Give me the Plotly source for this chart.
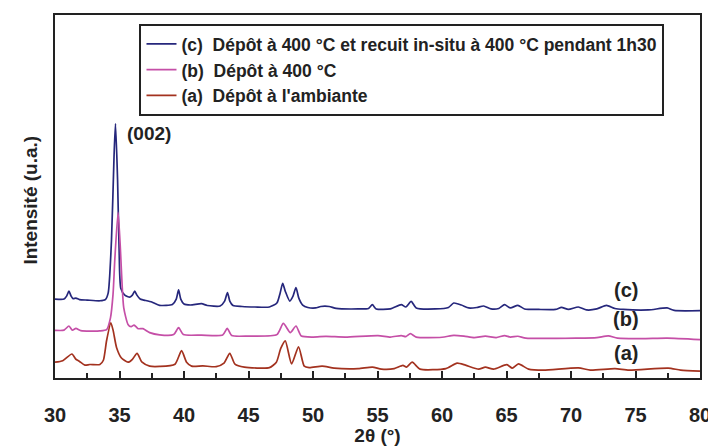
import plotly.graph_objects as go

# (c) Dépôt à 400 °C et recuit in-situ
c_x = [30.00, 30.70, 30.90, 31.08, 31.25, 31.40, 31.62, 31.90, 32.50, 33.48, 33.90, 34.12, 34.38, 34.58, 34.69,
       34.85, 34.97, 35.10, 35.41, 35.80, 36.00, 36.18, 36.35, 36.60, 36.90, 37.50, 38.11, 39.10, 39.40, 39.58, 39.75,
       40.00, 40.50, 41.36, 41.80, 42.80, 43.15, 43.37, 43.55, 43.80, 44.50, 45.50, 46.62, 47.20, 47.45, 47.65, 47.85, 48.20, 48.45, 48.68,
       48.90, 49.20, 49.60, 50.20, 50.60, 51.25, 51.80, 53.50, 54.30, 54.60, 54.90, 56.00, 56.84, 57.20,
       57.61, 58.00, 59.50, 60.50, 60.91, 61.50, 62.07, 62.70, 63.23, 63.80, 64.40, 64.85, 65.30,
       65.88, 66.40, 67.50, 68.80, 69.26, 69.80, 70.57, 71.20, 72.00, 72.74, 73.40, 74.05, 76.00,
       77.45, 78.00, 80.00]
c_y = [80, 80, 83, 88, 83, 80.5, 81, 79.5, 79, 78.3, 79.5, 86, 140, 226, 258,
       201, 131, 91, 84, 82, 84, 88, 84, 80, 79, 77, 73.7, 74.5, 80, 89.3, 80,
       75, 74, 75.3, 73.5, 73, 78, 86.7, 78, 73.5, 72.5, 72, 72, 76, 86, 96, 88, 78, 83, 91.7,
       81, 74, 71.5, 71, 72.5, 72.5, 70.5, 70, 70.5, 74.3, 70, 70, 74.3, 72,
       77.7, 71, 70, 71.5, 76, 74, 71, 71.5, 73, 70, 70.5, 74.3, 71,
       73.7, 70, 69.5, 69.5, 71.5, 69.5, 72, 69, 70, 73.7, 70.5, 69.5, 69,
       71, 68.5, 68.3]

# (b) Dépôt à 400 °C
b_x = [30.00, 30.70, 31.08, 31.35, 31.62, 32.00, 33.48, 34.00, 34.30, 34.50, 34.64, 34.89, 35.08, 35.20, 35.33,
       35.66, 35.90, 36.13, 36.45, 36.82, 37.34, 38.11, 39.20, 39.58, 39.95, 41.36, 43.00, 43.35,
       43.70, 45.00, 47.20, 47.70, 48.24, 48.68, 49.10, 50.00, 51.00, 52.50, 55.04, 56.00, 56.84,
       57.20, 57.55, 58.00, 60.00, 60.91, 61.70, 62.50, 63.36, 64.20, 64.85, 65.30, 65.88, 66.50,
       70.50, 72.00, 72.89, 73.60, 75.50, 77.45, 80.00]
b_y = [48.3, 48.5, 52.7, 48.5, 50.3, 48, 47.7, 49, 61, 85, 121, 168, 128, 95, 71,
       54.3, 52, 53.7, 50, 50, 46, 43.7, 44, 51, 44, 43.5, 43.5, 50.3,
       43, 42.5, 44, 55.3, 46, 52.7, 42.5, 41.5, 42.2, 41.5, 43, 41.5, 43,
       42, 45, 41.5, 41.3, 43.3, 42.5, 41, 42.5, 41, 43, 41.5, 42.3, 40.5,
       40.5, 41, 42.7, 40.5, 40, 40.5, 39]

# (a) Dépôt à l'ambiante
a_x = [30.00, 30.60, 31.31, 31.62, 31.88, 32.32, 32.70, 33.48, 33.75, 34.00, 34.33, 34.51, 34.77,
       35.15, 35.66, 36.00, 36.36, 36.75, 37.34, 38.11, 39.30, 39.81, 40.20, 40.59, 41.46, 42.50,
       43.10, 43.55, 43.95, 44.68, 46.62, 47.16, 47.50, 47.85, 48.34, 48.88, 49.32, 49.70, 50.71,
       51.64, 53.50, 54.60, 55.30, 56.30, 56.97, 57.25, 57.69, 58.30, 60.30, 61.17, 61.82, 62.84,
       63.36, 64.00, 65.03, 65.45, 65.93, 66.71, 67.87, 70.57, 71.50, 73.41, 74.50, 77.53, 78.50,
       80.00]
a_y = [16, 17.5, 24.3, 19, 17, 13, 13.7, 13.7, 18, 38, 56, 48, 31,
       20.3, 16, 19, 25, 16, 12, 11.7, 14, 27.7, 16, 12, 12.3, 11.5,
       15, 25, 14, 11, 10.5, 16, 30, 37.7, 14.3, 31.7, 12, 10.5, 12,
       10, 9.5, 11, 9, 9.5, 12.7, 11, 16, 9, 9.5, 15, 13, 9,
       11, 9, 13.5, 10, 14.3, 9, 8, 10.3, 8, 9.5, 8, 10, 8,
       7]

names = ["(c)\u00a0\u00a0Dépôt à 400 °C et recuit in-situ à 400 °C pendant 1h30",
         "(b)\u00a0\u00a0Dépôt à 400 °C",
         "(a)\u00a0\u00a0Dépôt à l'ambiante"]
colors = ["#26277c", "#c54fa7", "#a3321f"]
xtick_vals = [30, 35, 40, 45, 50, 55, 60, 65, 70, 75, 80]

FONT = "Liberation Sans"
INK = "#222222"
fig = go.Figure()
for xs, ys, nm, col in zip([c_x, b_x, a_x], [c_y, b_y, a_y], names, colors):
    fig.add_trace(go.Scatter(x=xs, y=ys, mode="lines", name=nm,
                             line=dict(color=col, width=1.7, shape="spline", smoothing=0.6)))

fig.update_layout(
    width=708, height=438,
    margin=dict(l=47, r=14, t=5, b=65),
    plot_bgcolor="white", paper_bgcolor="white",
    font=dict(family=FONT, color=INK),
    showlegend=True,
    legend=dict(x=0.131, y=0.975, xanchor="left", yanchor="top",
                bordercolor=INK, borderwidth=2, bgcolor="white",
                font=dict(family=FONT, size=17.5, color=INK, weight="bold"),
                itemwidth=30, tracegroupgap=0),
    xaxis=dict(range=[30, 80], tickvals=xtick_vals, ticks="inside", ticklen=7, tickwidth=2,
               tickcolor=INK,
               minor=dict(dtick=2.5, tick0=30, ticks="inside", ticklen=5, tickwidth=1.5,
                          tickcolor=INK),
               showline=True, linecolor=INK, linewidth=2, mirror=True,
               showgrid=False, zeroline=False,
               tickfont=dict(family=FONT, size=20, weight="bold", color=INK),
               ticklabelstandoff=18, ticklabeloverflow="allow",
               title=dict(text="2θ (°)", font=dict(family=FONT, size=19, weight="bold"),
                          standoff=2)),
    yaxis=dict(range=[0, 368], showticklabels=False, ticks="", showgrid=False, zeroline=False,
               showline=True, linecolor=INK, linewidth=2, mirror=True),
    annotations=[
        dict(text="Intensité (u.a.)", xref="paper", yref="paper", x=-0.038, y=0.49,
             textangle=-90, showarrow=False, xanchor="center", yanchor="middle",
             font=dict(family=FONT, size=19, weight="bold", color=INK)),
        dict(text="(002)", x=37.3, y=248, showarrow=False,
             font=dict(family=FONT, size=19, weight="bold", color=INK)),
        dict(text="(c)", x=74.3, y=89, showarrow=False,
             font=dict(family=FONT, size=20, weight="bold", color=INK)),
        dict(text="(b)", x=74.3, y=60, showarrow=False,
             font=dict(family=FONT, size=20, weight="bold", color=INK)),
        dict(text="(a)", x=74.3, y=25, showarrow=False,
             font=dict(family=FONT, size=20, weight="bold", color=INK)),
    ],
)

fig.write_html("out.html")
